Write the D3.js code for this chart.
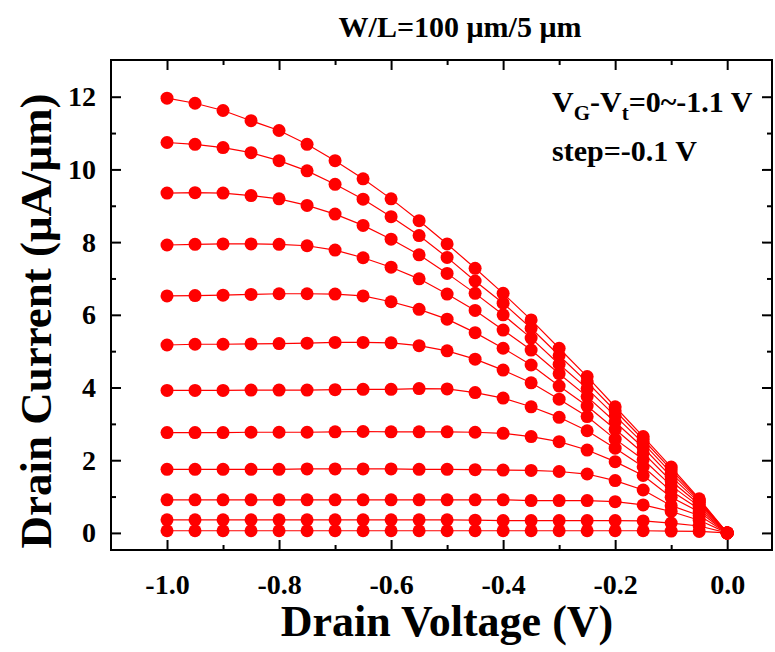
<!DOCTYPE html>
<html>
<head>
<meta charset="utf-8">
<script src="https://cdn.jsdelivr.net/npm/d3@7"></script>
<style>
  body { margin: 0; background: #fff; }
  text { font-family: "Liberation Serif", "Times New Roman", serif; font-weight: bold; }
</style>
</head>
<body>
<div id="chart"></div>
<script>
// drain voltage sweep (V)
const drainVoltage = [-1.0, -0.95, -0.9, -0.85, -0.8, -0.75, -0.7, -0.65, -0.6, -0.55, -0.5,
                      -0.45, -0.4, -0.35, -0.3, -0.25, -0.2, -0.15, -0.1, -0.05, 0.0];

// drain current (uA/um), one array per VG-Vt
const vg0   = [0.06, 0.06, 0.06, 0.06, 0.06, 0.06, 0.06, 0.06, 0.06, 0.06, 0.06, 0.06, 0.06, 0.06, 0.06, 0.06, 0.06, 0.06, 0.05, 0.04, 0];
const vg01  = [0.36, 0.36, 0.36, 0.36, 0.36, 0.36, 0.36, 0.36, 0.36, 0.36, 0.36, 0.35, 0.34, 0.34, 0.34, 0.34, 0.34, 0.33, 0.27, 0.19, 0];
const vg02  = [0.91, 0.91, 0.91, 0.91, 0.91, 0.91, 0.91, 0.91, 0.91, 0.91, 0.91, 0.91, 0.91, 0.89, 0.89, 0.89, 0.86, 0.77, 0.59, 0.35, 0];
const vg03  = [1.75, 1.75, 1.75, 1.75, 1.75, 1.76, 1.76, 1.76, 1.76, 1.75, 1.75, 1.74, 1.73, 1.72, 1.69, 1.62, 1.44, 1.18, 0.75, 0.48, 0];
const vg04  = [2.76, 2.76, 2.76, 2.77, 2.77, 2.77, 2.78, 2.79, 2.78, 2.78, 2.78, 2.77, 2.74, 2.65, 2.51, 2.28, 1.96, 1.58, 0.98, 0.58, 0];
const vg05  = [3.92, 3.92, 3.92, 3.93, 3.93, 3.93, 3.94, 3.95, 3.95, 3.97, 3.96, 3.86, 3.71, 3.47, 3.18, 2.81, 2.33, 1.82, 1.15, 0.66, 0];
const vg06  = [5.17, 5.19, 5.19, 5.20, 5.21, 5.22, 5.24, 5.24, 5.23, 5.15, 5.01, 4.78, 4.48, 4.13, 3.68, 3.20, 2.58, 2.02, 1.30, 0.73, 0];
const vg07  = [6.52, 6.53, 6.54, 6.56, 6.58, 6.58, 6.57, 6.52, 6.36, 6.15, 5.88, 5.51, 5.08, 4.62, 4.04, 3.49, 2.85, 2.20, 1.43, 0.79, 0];
const vg08  = [7.92, 7.94, 7.95, 7.95, 7.94, 7.90, 7.78, 7.57, 7.31, 6.99, 6.57, 6.12, 5.58, 5.03, 4.38, 3.75, 3.05, 2.35, 1.55, 0.84, 0];
const vg09  = [9.35, 9.36, 9.35, 9.28, 9.19, 9.01, 8.77, 8.46, 8.08, 7.65, 7.14, 6.59, 6.00, 5.36, 4.64, 3.97, 3.22, 2.47, 1.65, 0.88, 0];
const vg10  = [10.74, 10.69, 10.60, 10.46, 10.24, 9.96, 9.59, 9.18, 8.70, 8.18, 7.58, 6.93, 6.32, 5.63, 4.88, 4.15, 3.36, 2.57, 1.74, 0.91, 0];
const vg11  = [11.96, 11.82, 11.62, 11.34, 11.07, 10.69, 10.24, 9.74, 9.19, 8.59, 7.95, 7.28, 6.59, 5.86, 5.08, 4.30, 3.47, 2.65, 1.81, 0.94, 0];

const curves = [vg0, vg01, vg02, vg03, vg04, vg05, vg06, vg07, vg08, vg09, vg10, vg11];

const xMajorTicks = [-1.0, -0.8, -0.6, -0.4, -0.2, 0.0];
const xMinorTicks = [-0.9, -0.7, -0.5, -0.3, -0.1];
const yMajorTicks = [0, 2, 4, 6, 8, 10, 12];
const yMinorTicks = [1, 3, 5, 7, 9, 11];

const width = 775;
const height = 652;
const plotLeft = 111, plotRight = 772, plotTop = 60, plotBottom = 550;

const svg = d3.select('#chart')
  .append('svg')
  .attr('width', width)
  .attr('height', height);

const xScale = d3.scaleLinear().domain([-1.1, 0.08]).range([plotLeft, plotRight]);
const yScale = d3.scaleLinear().domain([-0.47, 13.01]).range([plotBottom, plotTop]);

// plain hyphen instead of the unicode minus d3 uses
const fmtX = d => d.toFixed(1).replace('\u2212', '-');

// axes, ticks pointing inward on all four sides
function styleAxis(g) {
  g.select('.domain').remove();
  g.selectAll('.tick line').attr('stroke', '#000').attr('stroke-width', 2);
  g.selectAll('.tick text').attr('fill', '#000');
}

svg.append('g')
  .attr('transform', `translate(0, ${plotBottom})`)
  .call(d3.axisBottom(xScale).tickValues(xMajorTicks).tickSize(-10).tickPadding(24).tickFormat(fmtX))
  .call(styleAxis)
  .selectAll('text').style('font-size', '28px');

svg.append('g')
  .attr('transform', `translate(0, ${plotBottom})`)
  .call(d3.axisBottom(xScale).tickValues(xMinorTicks).tickSize(-5).tickFormat(''))
  .call(styleAxis);

svg.append('g')
  .attr('transform', `translate(0, ${plotTop})`)
  .call(d3.axisTop(xScale).tickValues(xMajorTicks).tickSize(-10).tickFormat(''))
  .call(styleAxis);

svg.append('g')
  .attr('transform', `translate(0, ${plotTop})`)
  .call(d3.axisTop(xScale).tickValues(xMinorTicks).tickSize(-5).tickFormat(''))
  .call(styleAxis);

svg.append('g')
  .attr('transform', `translate(${plotLeft}, 0)`)
  .call(d3.axisLeft(yScale).tickValues(yMajorTicks).tickSize(-10).tickPadding(15))
  .call(styleAxis)
  .selectAll('text').style('font-size', '28px');

svg.append('g')
  .attr('transform', `translate(${plotLeft}, 0)`)
  .call(d3.axisLeft(yScale).tickValues(yMinorTicks).tickSize(-5).tickFormat(''))
  .call(styleAxis);

svg.append('g')
  .attr('transform', `translate(${plotRight}, 0)`)
  .call(d3.axisRight(yScale).tickValues(yMajorTicks).tickSize(-10).tickFormat(''))
  .call(styleAxis);

svg.append('g')
  .attr('transform', `translate(${plotRight}, 0)`)
  .call(d3.axisRight(yScale).tickValues(yMinorTicks).tickSize(-5).tickFormat(''))
  .call(styleAxis);

svg.append('rect')
  .attr('x', plotLeft)
  .attr('y', plotTop)
  .attr('width', plotRight - plotLeft)
  .attr('height', plotBottom - plotTop)
  .attr('fill', 'none')
  .attr('stroke', '#000')
  .attr('stroke-width', 2);

// curves
const line = d3.line()
  .x((d, i) => xScale(drainVoltage[i]))
  .y(d => yScale(d));

svg.selectAll('path.curve')
  .data(curves)
  .enter()
  .append('path')
  .attr('class', 'curve')
  .attr('d', line)
  .attr('fill', 'none')
  .attr('stroke', '#ff0000')
  .attr('stroke-width', 1.2);

curves.forEach(c => {
  svg.append('g')
    .selectAll('circle')
    .data(c)
    .enter()
    .append('circle')
    .attr('cx', (d, i) => xScale(drainVoltage[i]))
    .attr('cy', d => yScale(d))
    .attr('r', 6.5)
    .attr('fill', '#ff0000');
});

// titles
svg.append('text')
  .attr('x', 460)
  .attr('y', 37)
  .attr('text-anchor', 'middle')
  .style('font-size', '30px')
  .text('W/L=100 μm/5 μm');

svg.append('text')
  .attr('x', 447)
  .attr('y', 636)
  .attr('text-anchor', 'middle')
  .style('font-size', '44px')
  .text('Drain Voltage (V)');

svg.append('text')
  .attr('transform', 'translate(51, 321) rotate(-90)')
  .attr('text-anchor', 'middle')
  .style('font-size', '45px')
  .text('Drain Current (μA/μm)');

// annotation
const note = svg.append('text')
  .attr('x', 552)
  .attr('y', 112)
  .style('font-size', '30px');
note.append('tspan').text('V');
note.append('tspan').attr('dy', 8).style('font-size', '21px').text('G');
note.append('tspan').attr('dy', -8).text('-V');
note.append('tspan').attr('dy', 8).style('font-size', '21px').text('t');
note.append('tspan').attr('dy', -8).text('=0~-1.1 V');

svg.append('text')
  .attr('x', 552)
  .attr('y', 161)
  .style('font-size', '30px')
  .text('step=-0.1 V');
</script>
</body>
</html>
